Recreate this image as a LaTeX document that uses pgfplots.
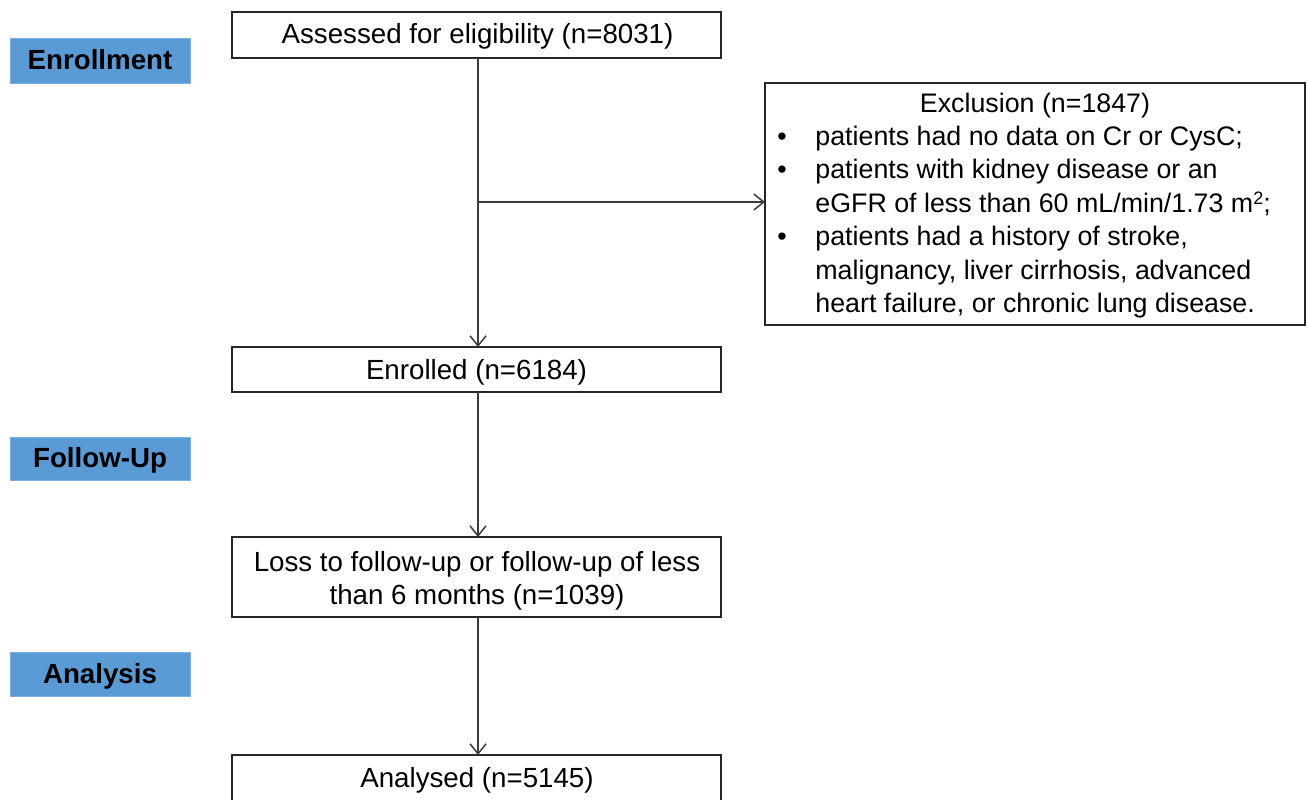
\documentclass[border=0pt]{standalone}
\usepackage{pgfplots}
\pgfplotsset{compat=1.18}
\usepackage{fontspec}
\setmainfont{Liberation Sans}
\usetikzlibrary{arrows.meta}
\definecolor{lab}{RGB}{91,155,213}
\definecolor{labb}{RGB}{120,175,225}
\definecolor{arr}{RGB}{60,60,60}
\newcommand\fs{\fontsize{13.4}{16.75}\selectfont}
\newcommand\fm{\fontsize{13.85}{16.75}\selectfont}
\begin{document}
\begin{tikzpicture}
\begin{axis}[width=653.5pt,height=399.5pt,scale only axis,hide axis,
  xmin=0,xmax=1307,ymin=0,ymax=799,y dir=reverse,clip=false]
\coordinate (SW) at (axis cs:0,799);
\coordinate (NE) at (axis cs:1307,0);
% stage labels
\draw[fill=lab,draw=labb,line width=0.5pt] (axis cs:10,38) rectangle (axis cs:190,83);
\node[font=\fm\bfseries,anchor=base,inner sep=0pt] at (axis cs:100,69) {Enrollment};
\draw[fill=lab,draw=labb,line width=0.5pt] (axis cs:10,437) rectangle (axis cs:190,480);
\node[font=\fm\bfseries,anchor=base,inner sep=0pt] at (axis cs:100,467.5) {Follow-Up};
\draw[fill=lab,draw=labb,line width=0.5pt] (axis cs:10,652) rectangle (axis cs:190,696);
\node[font=\fm\bfseries,anchor=base,inner sep=0pt] at (axis cs:100,683) {Analysis};
% main boxes
\draw[line width=1pt,draw=black!85] (axis cs:232,12) rectangle (axis cs:721,58);
\node[font=\fm,anchor=base,inner sep=0pt] at (axis cs:477.5,43) {Assessed for eligibility (n=8031)};
\draw[line width=1pt,draw=black!85] (axis cs:232,347) rectangle (axis cs:721,392);
\node[font=\fm,anchor=base,inner sep=0pt] at (axis cs:476.5,379) {Enrolled (n=6184)};
\draw[line width=1pt,draw=black!85] (axis cs:232,537) rectangle (axis cs:721,617);
\node[font=\fm,anchor=base,inner sep=0pt] at (axis cs:477,571) {Loss to follow-up or follow-up of less};
\node[font=\fm,anchor=base,inner sep=0pt] at (axis cs:477,604) {than 6 months (n=1039)};
\draw[line width=1pt,draw=black!85] (axis cs:232,755) rectangle (axis cs:721,840);
\node[font=\fm,anchor=base,inner sep=0pt] at (axis cs:477,787) {Analysed (n=5145)};
% exclusion box
\draw[line width=1pt,draw=black!85] (axis cs:765,83) rectangle (axis cs:1305,325);
\node[font=\fs,anchor=base,inner sep=0pt] at (axis cs:1035,112) {Exclusion (n=1847)};
\node[font=\fs,anchor=base,inner sep=0pt] at (axis cs:782,145) {•};
\node[font=\fs,anchor=base,inner sep=0pt] at (axis cs:782,178.5) {•};
\node[font=\fs,anchor=base,inner sep=0pt] at (axis cs:782,245.5) {•};
\node[font=\fs,anchor=base west,inner sep=0pt] at (axis cs:815,145) {patients had no data on Cr or CysC;};
\node[font=\fs,anchor=base west,inner sep=0pt] at (axis cs:815,178.5) {patients with kidney disease or an};
\node[font=\fs,anchor=base west,inner sep=0pt] at (axis cs:815,212) {eGFR of less than 60 mL/min/1.73 m\raisebox{0.55ex}{\fontsize{9}{10}\selectfont 2};};
\node[font=\fs,anchor=base west,inner sep=0pt] at (axis cs:815,245.5) {patients had a history of stroke,};
\node[font=\fs,anchor=base west,inner sep=0pt] at (axis cs:815,279) {malignancy, liver cirrhosis, advanced};
\node[font=\fs,anchor=base west,inner sep=0pt] at (axis cs:815,312.5) {heart failure, or chronic lung disease.};
% arrows
\draw[arr,line width=0.75pt,-{Straight Barb[length=5pt,width=8pt]}] (axis cs:478,58) -- (axis cs:478,347);
\draw[arr,line width=0.75pt,-{Straight Barb[length=5pt,width=8pt]}] (axis cs:478,202) -- (axis cs:765,202);
\draw[arr,line width=0.75pt,-{Straight Barb[length=5pt,width=8pt]}] (axis cs:478,392) -- (axis cs:478,537);
\draw[arr,line width=0.75pt,-{Straight Barb[length=5pt,width=8pt]}] (axis cs:478,617) -- (axis cs:478,755);
\end{axis}
\pgfresetboundingbox
\path[use as bounding box] (SW) rectangle (NE);
\end{tikzpicture}
\end{document}
